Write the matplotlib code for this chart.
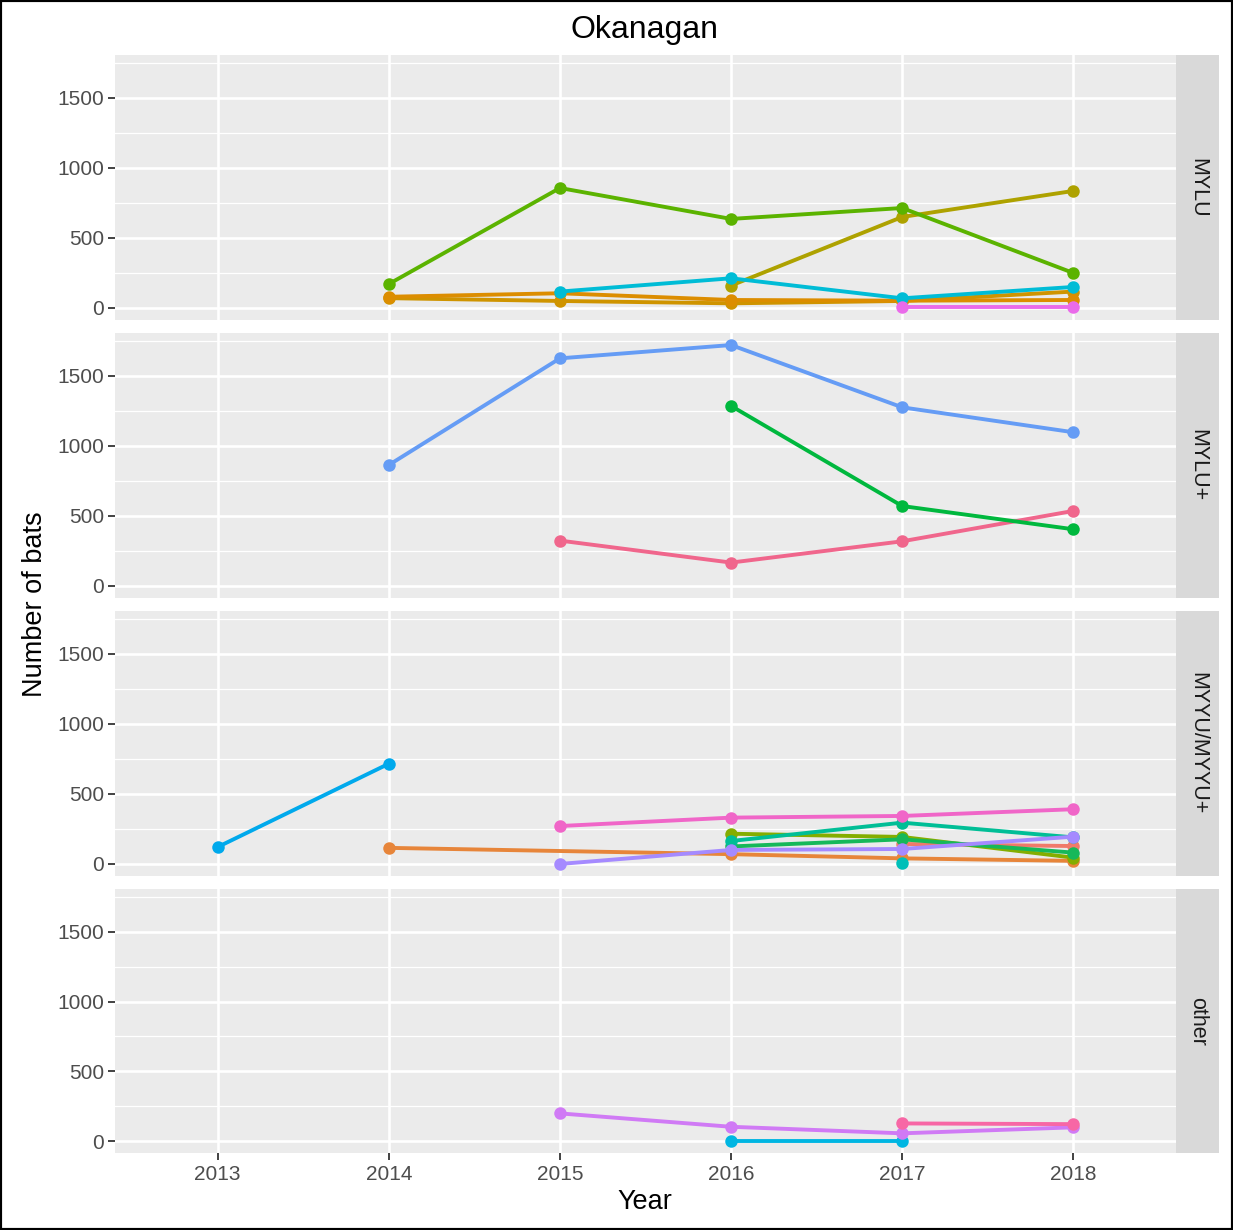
import matplotlib
matplotlib.use("Agg")
import matplotlib.pyplot as plt
from matplotlib.patches import Rectangle

plt.rcParams['font.family'] = ['Liberation Sans', 'DejaVu Sans']

# ---------------- data ----------------
title = "Okanagan"
species_groups = ["MYLU", "MYLU+", "MYYU/MYYU+", "other"]
year_ticks = [2013, 2014, 2015, 2016, 2017, 2018]
count_ticks = [0, 500, 1000, 1500]
count_minor = [250, 750, 1250, 1750]

# MYLU
mylu_a_years = [2014, 2015, 2016, 2017, 2018]
mylu_a_counts = [171, 857, 636, 714, 250]
mylu_b_years = [2016, 2017, 2018]
mylu_b_counts = [160, 650, 836]
mylu_c_years = [2014, 2015, 2016, 2017, 2018]
mylu_c_counts = [80, 105, 57, 52, 57]
mylu_d_years = [2014, 2015, 2016, 2017, 2018]
mylu_d_counts = [70, 50, 33, 50, 117]
mylu_e_years = [2015, 2016, 2017, 2018]
mylu_e_counts = [117, 212, 69, 150]
mylu_f_years = [2017, 2018]
mylu_f_counts = [5, 5]

# MYLU+
myluplus_a_years = [2015, 2016, 2017, 2018]
myluplus_a_counts = [324, 167, 319, 536]
myluplus_b_years = [2016, 2017, 2018]
myluplus_b_counts = [1286, 571, 405]
myluplus_c_years = [2014, 2015, 2016, 2017, 2018]
myluplus_c_counts = [864, 1626, 1721, 1276, 1098]

# MYYU/MYYU+
myyu_a_years = [2017, 2018]
myyu_a_counts = [143, 128]
myyu_b_years = [2014, 2016, 2017, 2018]
myyu_b_counts = [115, 70, 40, 22]
myyu_c_years = [2016, 2017, 2018]
myyu_c_counts = [216, 193, 45]
myyu_d_years = [2016, 2017, 2018]
myyu_d_counts = [125, 176, 81]
myyu_e_years = [2016, 2017, 2018]
myyu_e_counts = [164, 295, 190]
myyu_f_years = [2017]
myyu_f_counts = [10]
myyu_g_years = [2013, 2014]
myyu_g_counts = [121, 716]
myyu_h_years = [2015, 2016, 2017, 2018]
myyu_h_counts = [0, 100, 107, 195]
myyu_i_years = [2015, 2016, 2017, 2018]
myyu_i_counts = [271, 331, 343, 391]

# other
other_a_years = [2016, 2017]
other_a_counts = [0, 0]
other_b_years = [2015, 2016, 2017, 2018]
other_b_counts = [198, 102, 55, 98]
other_c_years = [2017, 2018]
other_c_counts = [126, 121]

panel_series = [
    [(mylu_d_years, mylu_d_counts, "#CF9400"),
     (mylu_c_years, mylu_c_counts, "#DC8D00"),
     (mylu_b_years, mylu_b_counts, "#AEA200"),
     (mylu_a_years, mylu_a_counts, "#5BB300"),
     (mylu_e_years, mylu_e_counts, "#00BCD6"),
     (mylu_f_years, mylu_f_counts, "#EA6BEA")],
    [(myluplus_a_years, myluplus_a_counts, "#F0668C"),
     (myluplus_b_years, myluplus_b_counts, "#00B83E"),
     (myluplus_c_years, myluplus_c_counts, "#659CF5")],
    [(myyu_a_years, myyu_a_counts, "#F07A6A"),
     (myyu_b_years, myyu_b_counts, "#E7853A"),
     (myyu_c_years, myyu_c_counts, "#84AD00"),
     (myyu_d_years, myyu_d_counts, "#16B85A"),
     (myyu_e_years, myyu_e_counts, "#00BE96"),
     (myyu_f_years, myyu_f_counts, "#00BFB8"),
     (myyu_g_years, myyu_g_counts, "#00A9EC"),
     (myyu_h_years, myyu_h_counts, "#A58AFF"),
     (myyu_i_years, myyu_i_counts, "#F066C8")],
    [(other_a_years, other_a_counts, "#00B6E2"),
     (other_b_years, other_b_counts, "#D07AF5"),
     (other_c_years, other_c_counts, "#F767A5")],
]

# ---------------- layout ----------------
W, H = 1233, 1230
fig = plt.figure(figsize=(W / 100, H / 100), dpi=100)
fig.patch.set_facecolor("white")

left_px, right_px = 115, 1176
strip_w_px = 43
panel_px = [(55, 320), (333, 598), (611, 876), (889, 1153)]

for i, (top, bot) in enumerate(panel_px):
    ax = fig.add_axes([left_px / W, 1 - bot / H, (right_px - left_px) / W, (bot - top) / H])
    ax.set_facecolor("#EBEBEB")
    for s in ax.spines.values():
        s.set_visible(False)
    ax.set_xlim(2012.4, 2018.6)
    ax.set_ylim(-86, 1807)
    ax.set_xticks(year_ticks)
    ax.set_yticks(count_ticks)
    ax.set_yticks(count_minor, minor=True)
    ax.grid(which="major", color="white", linewidth=1.9)
    ax.grid(which="minor", axis="y", color="white", linewidth=0.9)
    ax.set_axisbelow(True)
    ax.tick_params(axis="y", which="major", labelsize=15, labelcolor="#4D4D4D",
                   color="#333333", length=5, width=1.3, pad=3)
    ax.tick_params(axis="y", which="minor", length=0)
    if i < 3:
        ax.tick_params(axis="x", bottom=False, labelbottom=False)
    else:
        ax.tick_params(axis="x", labelsize=15, labelcolor="#4D4D4D",
                       color="#333333", length=5, width=1.3, pad=4)
    for yrs, cnts, col in panel_series[i]:
        ax.plot(yrs, cnts, color=col, linewidth=2.8, marker="o", markersize=9,
                markeredgewidth=0, solid_capstyle="round", clip_on=False)

    sax = fig.add_axes([right_px / W, 1 - bot / H, strip_w_px / W, (bot - top) / H])
    sax.set_facecolor("#D9D9D9")
    for s in sax.spines.values():
        s.set_visible(False)
    sax.set_xticks([])
    sax.set_yticks([])
    sax.text(0.5, 0.5, species_groups[i], rotation=-90, ha="center", va="center",
             fontsize=15.5, color="#1A1A1A", transform=sax.transAxes)

fig.text(645 / W, 1 - 30 / H, title, ha="center", va="center", fontsize=23, color="black")
fig.text(35 / W, 1 - 604 / H, "Number of bats", rotation=90, ha="center", va="center",
         fontsize=19.5, color="black")
fig.text(645 / W, 1 - 1202 / H, "Year", ha="center", va="center", fontsize=19.5, color="black")

fig.patches.append(Rectangle((0, 0), 1, 1, transform=fig.transFigure, fill=False,
                             edgecolor="black", linewidth=3))

fig.savefig("out.png", dpi=100, facecolor="white")
